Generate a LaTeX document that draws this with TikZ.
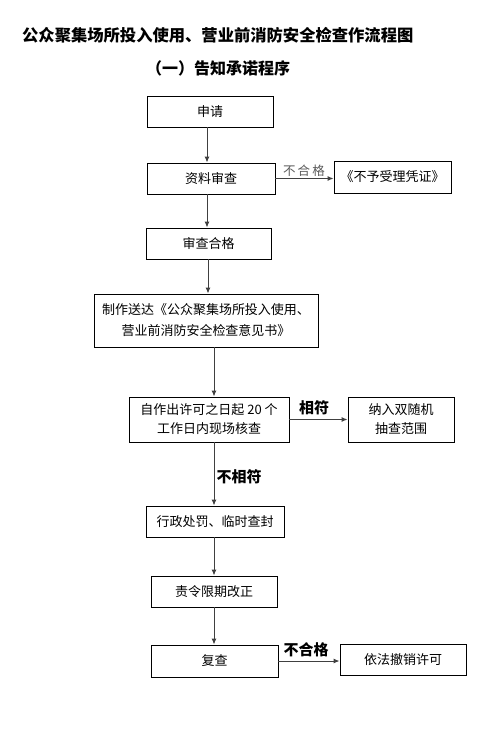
\documentclass[tikz,border=0pt]{standalone}
\usepackage{fontspec}
\setmainfont{Noto Sans CJK SC}
\usetikzlibrary{arrows.meta,calc}
\begin{document}
\begin{tikzpicture}[x=1pt,y=-1pt,
  box/.style={draw=black,line width=0.9pt,inner sep=0pt,align=center,font=\fontsize{13}{19}\selectfont},
  arr/.style={draw=black!75,line width=1pt,-{Latex[length=6pt,width=5pt]}},
  lbl/.style={font=\bfseries\fontsize{15}{18}\selectfont,inner sep=0pt}]
\useasboundingbox (0,0) rectangle (483,734);
\node[anchor=west,font=\bfseries\fontsize{16.3}{20}\selectfont,inner sep=0pt] (title) at (22,35) {公众聚集场所投入使用、营业前消防安全检查作流程图};
\node[anchor=west,font=\bfseries\fontsize{16}{20}\selectfont,inner sep=0pt] (sub) at (146,68) {（一）告知承诺程序};
\node[box,minimum width=126pt,minimum height=31pt] (sq) at (210,111.5) {申请};
\node[box,minimum width=128pt,minimum height=31pt] (zl) at (211,178.5) {资料审查};
\node[box,minimum width=117pt,minimum height=32pt] (by) at (392.5,177) {《不予受理凭证》};
\node[box,minimum width=125pt,minimum height=31pt] (sc) at (208.5,243.5) {审查合格};
\node[box,minimum width=224pt,minimum height=53pt,font=\fontsize{13}{21}\selectfont] (zz) at (206,320.5) {制作送达《公众聚集场所投入使用、\\营业前消防安全检查意见书》};
\node[box,minimum width=160pt,minimum height=45pt] (zx) at (209,419.5) {自作出许可之日起 20 个\\工作日内现场核查};
\node[box,minimum width=106pt,minimum height=45pt] (nr) at (401,419.5) {纳入双随机\\抽查范围};
\node[box,minimum width=138pt,minimum height=31pt] (xz) at (215,521.5) {行政处罚、临时查封};
\node[box,minimum width=126pt,minimum height=31pt] (zg) at (214,591.5) {责令限期改正};
\node[box,minimum width=127pt,minimum height=32pt] (fc) at (214.5,661) {复查};
\node[box,minimum width=126pt,minimum height=31pt] (yf) at (403,659.5) {依法撤销许可};
\draw[arr] ([xshift=-3pt]sq.south) -- ([xshift=-4pt]zl.north);
\draw[arr] ([xshift=-4pt]zl.south) -- ([xshift=-1.5pt]sc.north);
\draw[arr] ([xshift=-0.5pt]sc.south) -- ([xshift=2pt]zz.north);
\draw[arr] ([xshift=8pt]zz.south) -- ([xshift=5pt]zx.north);
\draw[arr] ([xshift=5pt]zx.south) -- ([xshift=-1pt]xz.north);
\draw[arr] ([xshift=-1pt]xz.south) -- (zg.north);
\draw[arr] (zg.south) -- ([xshift=-0.5pt]fc.north);
\draw[arr] (zl.east) -- (zl.east -| by.west);
\draw[arr] (zx.east) -- (nr.west);
\draw[arr] (fc.east) -- (fc.east -| yf.west);
\node[inner sep=0pt,text=black!65,font=\fontsize{12.5}{15}\selectfont] (l1) at (304,171) {不\,合\,格};
\node[lbl] (l2) at (314,408) {相符};
\node[lbl] (l3) at (239,477) {不相符};
\node[lbl] (l4) at (306,650) {不合格};
\end{tikzpicture}
\end{document}
